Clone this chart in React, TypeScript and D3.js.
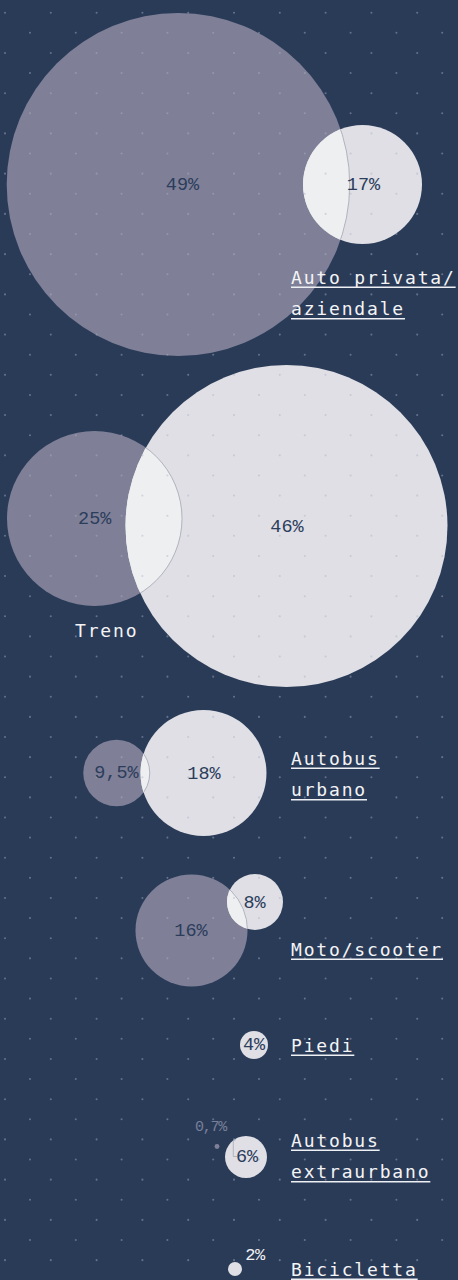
import React from "react";
import * as d3 from "d3";

// ---- data ----
const categories: string[][] = [
  ["Auto privata/", "aziendale"],
  ["Treno"],
  ["Autobus", "urbano"],
  ["Moto/scooter"],
  ["Piedi"],
  ["Autobus", "extraurbano"],
  ["Bicicletta"],
];
const beforeValues: (number | null)[] = [49, 25, 9.5, 16, null, 0.7, null];
const afterValues: number[] = [17, 46, 18, 8, 4, 6, 2];

// ---- layout (positions only) ----
const W = 458;
const H = 1280;
const greyCenters: ([number, number] | null)[] = [
  [178.2, 184.5], [94.5, 518.5], [116.5, 773], [191.5, 930.5], null, [217, 1146.5], null,
];
const lightCenters: [number, number][] = [
  [362.5, 184.5], [286.5, 526], [203.5, 773], [255, 902], [254, 1045], [246, 1157], [235, 1269],
];
const greyLabelPos: ([number, number] | null)[] = [
  [182.5, 185], [94.7, 519], [116.5, 773.5], [191, 931], null, [210.5, 1127], null,
];
const lightLabelPos: [number, number][] = [
  [363.5, 185], [287, 527], [204, 774], [254.5, 903], [254, 1045.5], [247, 1157.5], [255, 1255.5],
];
const labelX = [291, 75, 291, 291, 291, 291, 291];
const labelY = [283.5, 636.5, 764.5, 955.5, 1051.5, 1146.5, 1275.5];
const underlined = [true, false, true, true, true, true, true];

const BG = "#2a3b58";
const GREY = "#7f8097";
const LIGHT = "#dfdfe5";
const OVERLAP = "#eeeff1";
const TEXT_DARK = "#2c3d5c";

const fmt = (v: number) => String(v).replace(".", ",") + "%";

export default function App() {
  const rScale = d3.scaleLinear().domain([0, 100]).range([0, 350]);

  // background dot grid
  const rowStep = 20.12;
  const colStep = 45.8;
  const dots: [number, number][] = [];
  for (let k = 0; 12.7 + k * rowStep < H; k++) {
    const y = 12.7 + k * rowStep;
    const x0 = k % 2 === 0 ? 5 : 30;
    for (let x = x0; x < W; x += colStep) dots.push([x, y]);
  }

  const labelFs = 18;
  const labelLs = 1.83;
  const adv = labelFs * 0.602 + labelLs;
  const pctFont = "'Liberation Mono', 'DejaVu Sans Mono', monospace";

  return (
    <svg
      width={W}
      height={H}
      style={{ position: "absolute", left: 0, top: 0, display: "block" }}
      fontFamily="'DejaVu Sans Mono', 'Liberation Mono', monospace"
    >
      <defs>
        {lightCenters.map((c, i) => (
          <clipPath id={`clip-light-${i}`} key={i}>
            <circle cx={c[0]} cy={c[1]} r={rScale(afterValues[i])} />
          </clipPath>
        ))}
      </defs>
      <rect width={W} height={H} fill={BG} />

      {categories.map((cat, i) => {
        const gv = beforeValues[i];
        const gc = greyCenters[i];
        const lc = lightCenters[i];
        const lr = rScale(afterValues[i]);
        return (
          <g key={i}>
            {gv != null && gc && (
              <circle cx={gc[0]} cy={gc[1]} r={rScale(gv)} fill={GREY} />
            )}
            <circle cx={lc[0]} cy={lc[1]} r={lr} fill={LIGHT} />
            {gv != null && gc && (
              <circle
                cx={gc[0]}
                cy={gc[1]}
                r={rScale(gv)}
                fill={OVERLAP}
                stroke="#a3a4b4"
                strokeWidth={0.8}
                clipPath={`url(#clip-light-${i})`}
              />
            )}
          </g>
        );
      })}

      {/* dot grid */}
      <g>
        {dots.map((d, i) => (
          <circle key={i} cx={d[0]} cy={d[1]} r={1.05} fill="#aab1c6" opacity={0.45} />
        ))}
      </g>

      {/* small leader near 6% */}
      <path
        d="M236,1139.5 L233.3,1140.5 L233.3,1156.5 L237,1156.5"
        fill="none"
        stroke="#9fa3b3"
        strokeWidth={0.7}
      />

      {/* percentages */}
      {categories.map((cat, i) => {
        const gv = beforeValues[i];
        const gp = greyLabelPos[i];
        const lp = lightLabelPos[i];
        const smallGrey = gv != null && gv < 1;
        const outsideLight = afterValues[i] < 3;
        return (
          <g key={i} fontFamily={pctFont}>
            {gv != null && gp && (
              <text
                x={gp[0]}
                y={gp[1]}
                textAnchor="middle"
                dominantBaseline="central"
                fontSize={smallGrey ? 15 : 18.5}
                letterSpacing={smallGrey ? -1.2 : 0}
                fill={smallGrey ? "#788099" : TEXT_DARK}
              >
                {fmt(gv)}
              </text>
            )}
            <text
              x={lp[0]}
              y={lp[1]}
              textAnchor="middle"
              dominantBaseline="central"
              fontSize={outsideLight ? 17 : 18.5}
              letterSpacing={outsideLight ? -0.5 : 0}
              fill={outsideLight ? "#f2f2f5" : TEXT_DARK}
            >
              {fmt(afterValues[i])}
            </text>
          </g>
        );
      })}

      {/* category labels */}
      {categories.map((lines, i) =>
        lines.map((line, j) => {
          const y = labelY[i] + j * 31.5;
          const w = line.length * adv;
          return (
            <g key={`${i}-${j}`}>
              <text
                x={labelX[i]}
                y={y}
                fontSize={labelFs}
                letterSpacing={labelLs}
                fill="#f4f4f6"
              >
                {line}
              </text>
              {underlined[i] && (
                <line
                  x1={labelX[i]}
                  x2={labelX[i] + w}
                  y1={y + 3.8}
                  y2={y + 3.8}
                  stroke="#eef0f4"
                  strokeWidth={1.5}
                />
              )}
            </g>
          );
        })
      )}
    </svg>
  );
}
